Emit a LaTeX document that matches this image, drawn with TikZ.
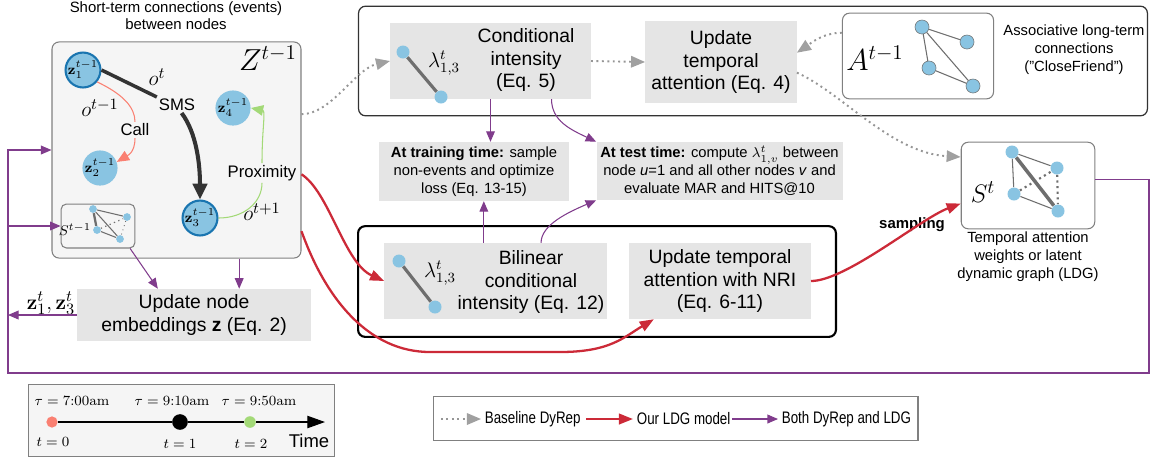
\documentclass[tikz,border=0pt]{standalone}
\usepackage[no-math]{fontspec}
\setmainfont{Liberation Sans}
\newfontfamily\narrowsans[FakeStretch=0.8]{Liberation Sans}
\usetikzlibrary{arrows.meta}

\definecolor{nodeblue}{RGB}{137,196,226}
\definecolor{edgeblue}{RGB}{26,117,176}
\definecolor{boxgray}{RGB}{229,229,229}
\definecolor{panelgray}{RGB}{245,245,245}
\definecolor{framegray}{RGB}{128,128,128}
\definecolor{dotgray}{RGB}{150,150,150}
\definecolor{tipgray}{RGB}{160,160,160}
\definecolor{ldgred}{RGB}{204,42,56}
\definecolor{bothpurple}{RGB}{128,60,140}
\definecolor{callred}{RGB}{250,128,114}
\definecolor{proxgreen}{RGB}{163,217,119}
\definecolor{smsdark}{RGB}{51,51,51}
\definecolor{edgegray}{RGB}{110,110,110}

\begin{document}
\begin{tikzpicture}[x=0.02cm,y=-0.02cm,
		graybox/.style={fill=boxgray,inner sep=2pt,align=center,font=\fontsize{11}{12.8}\selectfont},
		boxtext/.style={inner sep=1pt,align=center,font=\fontsize{11}{12.8}\selectfont},
		notebox/.style={fill=boxgray,inner sep=2pt,align=center,font=\fontsize{8.4}{10.2}\selectfont},
		captext/.style={align=center,font=\fontsize{8.4}{10.2}\selectfont},
		evtext/.style={inner sep=1pt,font=\fontsize{9.5}{10}\selectfont},
		znode/.style={circle,fill=nodeblue,minimum size=20pt,inner sep=0pt,font=\fontsize{8.5}{9}\selectfont},
		zlast/.style={znode,draw=edgeblue,line width=1.2pt,minimum size=19pt},
		minidot/.style={circle,fill=nodeblue,inner sep=0pt,minimum size=#1},
		thinedge/.style={edgegray,line width=0.6pt},
		thickedge/.style={edgegray,line width=1.8pt},
		dotedge/.style={edgegray,dotted,line width=1pt},
		dyreparr/.style={dotgray,dotted,line width=1.1pt,-{Triangle[length=8pt,width=6.5pt,color=tipgray]}},
		ldgarr/.style={ldgred,line width=1.3pt,-{Triangle[length=8pt,width=6pt]}},
		botharr/.style={bothpurple,line width=0.6pt,-{Triangle[length=6pt,width=5pt]}},
		bothline/.style={bothpurple,line width=0.6pt}]
	\useasboundingbox (0,0) rectangle (1151,461);

	\node[captext,font=\fontsize{8.5}{9.5}\selectfont] (shortlbl) at (176,16) {Short-term connections (events)\\between nodes};
	\node[draw=framegray,fill=panelgray,rounded corners=4pt,minimum width=141.7pt,minimum height=123pt,line width=0.6pt] (zbox) at (176.5,150) {};
	\node[font=\fontsize{18}{20}\selectfont] (zlbl) at (268,58) {$Z^{t-1}$};

	\node[zlast] (z1) at (83,70) {$\mathbf{z}_1^{t-1}$};
	\node[znode] (z2) at (100,168) {$\mathbf{z}_2^{t-1}$};
	\node[zlast] (z3) at (200,218) {$\mathbf{z}_3^{t-1}$};
	\node[znode] (z4) at (233,108) {$\mathbf{z}_4^{t-1}$};
	\node[evtext] (sms) at (177,105) {SMS};
	\node[evtext] (call) at (135,130) {Call};
	\node[evtext] (prox) at (262,173) {Proximity};
	\node[font=\fontsize{12.5}{13}\selectfont] (ot) at (157,77) {$o^t$};
	\node[font=\fontsize{12.5}{13}\selectfont] (otm) at (100,108) {$o^{t-1}$};
	\node[font=\fontsize{12.5}{13}\selectfont] (otp) at (262,212) {$o^{t+1}$};

	\draw[smsdark,line width=2pt] (z1.east) -- (sms.north west);
	\draw[smsdark,line width=2.3pt,-{Triangle[length=9pt,width=8pt]}] (sms.-60) .. controls +(15,20) and +(0,-35) .. (z3.north);
	\draw[callred,line width=0.6pt] (z1.-40) .. controls +(25,12) and +(0,-15) .. (call.north);
	\draw[callred,line width=0.6pt,-{Triangle[length=7pt,width=6pt]}] (call.south) .. controls +(0,15) and +(10,-6) .. (z2.20);
	\draw[proxgreen,line width=0.6pt] (z3.east) .. controls +(25,0) and +(0,20) .. (prox.south);
	\draw[proxgreen,line width=0.6pt,-{Triangle[length=7pt,width=6pt]}] (prox.north) .. controls +(0,-35) and +(15,3) .. (z4.east);

	\node[draw=framegray,fill=panelgray,rounded corners=3pt,minimum width=42pt,minimum height=25pt,line width=0.6pt] (stm) at (98,226) {};
	\node[inner sep=0pt,font=\fontsize{8.5}{9}\selectfont] (stmlbl) at (75,230) {$S^{t-1}$};
	\node[minidot=4.4pt] (s1) at (93,209) {};
	\node[minidot=4.4pt] (s2) at (127,217) {};
	\node[minidot=4.4pt] (s3) at (97,230) {};
	\node[minidot=4.4pt] (s4) at (120,239) {};
	\draw[thickedge,line width=1.3pt] (s1) -- (s3);
	\draw[thinedge] (s1) -- (s2);
	\draw[thinedge] (s1) -- (s4);
	\draw[thinedge] (s3) -- (s4);
	\draw[dotedge,line width=0.7pt] (s3) -- (s2);
	\draw[dotedge,line width=0.5pt] (s2) -- (s4);

	\node[graybox,minimum width=132.7pt,minimum height=29.5pt] (emb) at (194,315) {Update node\\embeddings \textbf{z} (Eq. 2)};
	\node[font=\fontsize{12.5}{13}\selectfont] (zout) at (51,303) {$\mathbf{z}_1^t,\mathbf{z}_3^t$};

	\node[draw=black!80,rounded corners=4pt,minimum width=449pt,minimum height=62.4pt,line width=0.7pt] (topbox) at (753,61) {};
	\node[fill=boxgray,minimum width=114pt,minimum height=43pt] (cond) at (490.5,61) {};
	\node[boxtext] (condtxt) at (526,60) {Conditional\\intensity\\(Eq. 5)};
	\node[minidot=7.4pt] (c1) at (403,52) {};
	\node[minidot=7.4pt] (c2) at (441,97) {};
	\draw[thickedge] (c1) -- (c2);
	\node[font=\fontsize{12}{12}\selectfont] (condlam) at (444,63) {$\lambda^t_{1,3}$};
	\node[graybox,minimum width=86pt,minimum height=46.5pt] (upd) at (721,62) {Update\\temporal\\attention (Eq. 4)};

	\node[draw=framegray,fill=white,rounded corners=4pt,minimum width=86pt,minimum height=48.8pt,line width=0.6pt] (abox) at (918,56) {};
	\node[font=\fontsize{18}{20}\selectfont] (albl) at (875,58) {$A^{t-1}$};
	\node[minidot=8pt,draw=edgegray,line width=0.3pt] (a1) at (922,27) {};
	\node[minidot=8pt,draw=edgegray,line width=0.3pt] (a2) at (967,42) {};
	\node[minidot=8pt,draw=edgegray,line width=0.3pt] (a3) at (929,68) {};
	\node[minidot=8pt,draw=edgegray,line width=0.3pt] (a4) at (973,86) {};
	\draw[thinedge] (a1) -- (a2);
	\draw[thinedge] (a1) -- (a3);
	\draw[thinedge] (a1) -- (a4);
	\draw[thinedge] (a3) -- (a4);
	\node[captext] (assoc) at (1074,50) {Associative long-term\\connections\\("CloseFriend")};

	\node[notebox,minimum width=107.7pt,minimum height=33.4pt] (train) at (474,171.5) {\textbf{At training time:} sample\\non-events and optimize\\loss (Eq. 13-15)};
	\node[notebox,minimum width=140pt,minimum height=32.9pt] (test) at (719.5,171) {\textbf{At test time:} compute $\lambda^t_{1,v}$ between\\node \textit{u}=1 and all other nodes \textit{v} and\\evaluate MAR and HITS@10};

	\node[draw=black,line width=1.2pt,rounded corners=4pt,minimum width=272pt,minimum height=63pt] (botbox) at (597,281.5) {};
	\node[fill=boxgray,minimum width=126.4pt,minimum height=43.1pt] (bil) at (495.5,281) {};
	\node[boxtext] (biltxt) at (531,282) {Bilinear\\conditional\\intensity (Eq. 12)};
	\node[minidot=7.4pt] (b1) at (399,261) {};
	\node[minidot=7.4pt] (b2) at (435,307) {};
	\draw[thickedge] (b1) -- (b2);
	\node[font=\fontsize{12}{12}\selectfont] (billam) at (440,273) {$\lambda^t_{1,3}$};
	\node[graybox,minimum width=103.2pt,minimum height=43.1pt] (nri) at (720,281) {Update temporal\\attention with NRI\\(Eq. 6-11)};

	\node[draw=framegray,fill=white,rounded corners=4pt,minimum width=76pt,minimum height=49.3pt,line width=0.6pt] (st) at (1028,185.5) {};
	\node[font=\fontsize{15}{16}\selectfont] (stlbl) at (983,192) {$S^t$};
	\node[minidot=7.4pt] (n1) at (1012,152) {};
	\node[minidot=7.4pt] (n2) at (1057,168) {};
	\node[minidot=7.4pt] (n3) at (1014,194) {};
	\node[minidot=7.4pt] (n4) at (1058,211) {};
	\draw[thinedge] (n1) -- (n2);
	\draw[thinedge] (n1) -- (n3);
	\draw[thickedge,line width=2pt] (n1) -- (n4);
	\draw[thinedge] (n3) -- (n4);
	\draw[dotedge,line width=1.2pt] (n3) -- (n2);
	\draw[dotedge,line width=1.2pt] (n2) -- (n4);
	\node[captext] (stcap) at (1028,257) {Temporal attention\\weights or latent\\dynamic graph (LDG)};
	\node[font=\bfseries\fontsize{8.5}{9}\selectfont] (samp) at (912,225) {sampling};

	\draw[dyreparr] (zbox.16) .. controls +(30,0) and +(-35,8) .. (cond.west);
	\draw[dyreparr] (cond.east) -- (upd.west);
	\draw[dyreparr] (abox.163) .. controls +(-20,0) and +(12,-8) .. (upd.7);
	\draw[dyreparr] (upd.-8) .. controls +(45,20) and +(-70,-4) .. (st.157);

	\draw[ldgarr] (zbox.-11) .. controls +(28,18) and +(-40,-18) .. (bil.west);
	\draw[ldgarr] (zbox.-33) .. controls +(25,70) and +(-60,0) .. (430,352) -- (560,352) .. controls +(50,0) and +(-30,18) .. (nri.-150);
	\draw[ldgarr] (nri.east) .. controls +(35,0) and +(-40,15) .. (st.-165);

	\coordinate (fbr) at (1149,373);
	\coordinate (fbl) at (8,373);
	\draw[botharr] (cond.south) -- (cond.south |- train.north);
	\draw[botharr] (cond.-32) .. controls +(0,22) and +(-25,-12) .. (test.north west);
	\draw[botharr] (bil.107) -- (bil.107 |- train.south);
	\draw[botharr] (bil.40) .. controls +(0,-18) and +(-28,12) .. (test.south west);
	\draw[botharr] (zbox.-60) -- (zbox.-60 |- emb.north);
	\draw[botharr] (stm.-35) -- (emb.144);
	\draw[botharr] (emb.west) -- (emb.west -| fbl);
	\draw[botharr] (st.5) -| (fbr) -- (fbl) |- (zbox.west);
	\draw[botharr] (fbl |- stm.west) -- (stm.west);

	\node[draw=framegray,fill=panelgray,minimum width=174pt,minimum height=41.4pt,line width=0.6pt] (tlbox) at (181.5,420.5) {};
	\node[circle,fill=callred,inner sep=0pt,minimum size=6.4pt] (tl0) at (52,422) {};
	\node[circle,fill=black,inner sep=0pt,minimum size=8.9pt] (tl1) at (180,422) {};
	\node[circle,fill=proxgreen,inner sep=0pt,minimum size=6.6pt] (tl2) at (250,422) {};
	\coordinate (tlend) at (325,422);
	\draw[black,line width=0.6pt] (tl0) -- (tl1);
	\draw[black,line width=0.6pt] (tl1) -- (tl2);
	\draw[black,line width=0.6pt,-{Triangle[length=10pt,width=7pt]}] (tl2) -- (tlend);
	\node[font=\fontsize{8.5}{9}\selectfont] (tau0) at (72,401) {$\tau=7{:}00\mathrm{am}$};
	\node[font=\fontsize{8.5}{9}\selectfont] (tau1) at (172,401) {$\tau=9{:}10\mathrm{am}$};
	\node[font=\fontsize{8.5}{9}\selectfont] (tau2) at (259,401) {$\tau=9{:}50\mathrm{am}$};
	\node[font=\fontsize{8.5}{9}\selectfont] (t0) at (53,442) {$t=0$};
	\node[font=\fontsize{8.5}{9}\selectfont] (t1) at (180,444) {$t=1$};
	\node[font=\fontsize{8.5}{9}\selectfont] (t2) at (251,444) {$t=2$};
	\node[font=\fontsize{10.5}{11}\selectfont] (timelbl) at (309,441) {Time};

	\node[draw=framegray,minimum width=276pt,minimum height=25.5pt,line width=0.6pt] (lgbox) at (675.5,418.5) {};
	\node[anchor=west,inner sep=2pt,font=\narrowsans\fontsize{9.5}{10}\selectfont] (lga) at (481,419) {Baseline DyRep};
	\node[anchor=west,inner sep=2pt,font=\narrowsans\fontsize{9.5}{10}\selectfont] (lgb) at (633,419) {Our LDG model};
	\node[anchor=west,inner sep=2pt,font=\narrowsans\fontsize{9.5}{10}\selectfont] (lgc) at (778,419) {Both DyRep and LDG};
	\coordinate (lgas) at (441,419);
	\coordinate (lgbs) at (586,419);
	\coordinate (lgcs) at (732,419);
	\draw[dyreparr] (lgas) -- (lga.west);
	\draw[ldgarr] (lgbs) -- (lgb.west);
	\draw[botharr] (lgcs) -- (lgc.west);
\end{tikzpicture}
\end{document}
